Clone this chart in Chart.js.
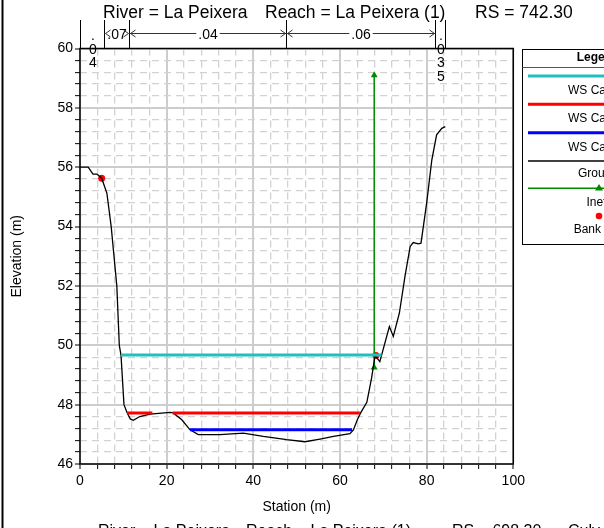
<!DOCTYPE html>
<html><head><meta charset="utf-8">
<script src="https://cdn.jsdelivr.net/npm/chart.js@4"></script>
<style>html,body{margin:0;padding:0;background:#fff;overflow:hidden}</style>
</head><body>
<canvas id="c" width="604" height="528"></canvas>
<script>
// ---- data ----
const groundStation = [0, 1.9, 2.6, 3.0, 3.9, 5.0, 6.2, 7.2, 8.5, 9.07, 9.46, 10.15, 10.9, 11.6, 12.3, 13.8, 16.2, 20.8, 21.5, 23.5, 25.4, 27.3, 32.3, 37.7, 42.3, 47.7, 51.9, 55.4, 58.5, 62.3, 63.1, 64.0, 64.8, 66.2, 67.3, 68.1, 69.2, 71.4, 72.3, 73.7, 75.0, 76.2, 76.9, 78.1, 78.7, 80.0, 81.2, 82.3, 83.5, 84.3];
const groundElev = [56.0, 56.0, 55.85, 55.77, 55.77, 55.63, 55.13, 54.0, 52.0, 50.0, 49.67, 48.0, 47.72, 47.52, 47.47, 47.6, 47.68, 47.74, 47.72, 47.49, 47.15, 46.99, 46.99, 47.04, 46.93, 46.82, 46.75, 46.84, 46.93, 47.02, 47.15, 47.49, 47.73, 48.08, 48.9, 49.65, 49.45, 50.63, 50.30, 51.08, 52.32, 53.33, 53.46, 53.42, 53.44, 54.79, 56.25, 57.09, 57.31, 57.37];
const ws1Station = [9.46, 69.6];           // cyan
const ws1Elev = 49.67;
const ws2Station = [10.9, 16.7, null, 21.4, 64.6]; // red (split where ground is higher)
const ws2Elev = 47.72;
const ws3Station = [25.4, 62.8];           // blue
const ws3Elev = 47.15;
const ineffStation = [67.9, 67.9];
const ineffElev = [49.25, 59.1];
const bankStation = [5.0, 68.3];
const bankElev = [55.63, 49.66];
const nStations = [0, 5.5, 11.3, 47.6, 82.0, 84.3];
const nValues = ['.04', '.07', '.04', '.06', '.035'];
const legendLabels = ['WS Caudal 500', 'WS Caudal 100', 'WS Caudal 10', 'Ground', 'Ineff', 'Bank Sta'];
const headerTexts = ['River = La Peixera', 'Reach = La Peixera (1)', 'RS = 742.30'];
const footerTexts = ['River = La Peixera', 'Reach = La Peixera (1)', 'RS = 698.30', 'Culv'];
const xTitle = 'Station (m)';
const yTitle = 'Elevation (m)';

const FONT = "'Liberation Sans', Arial, sans-serif";
function isMult(v, m) { return Math.abs(v / m - Math.round(v / m)) < 1e-6; }
function pts(xs, ys) { return xs.map((x, i) => ({ x: x, y: Array.isArray(ys) ? ys[i] : ys })); }
function segPts(xs, y) { return xs.map(x => x === null ? { x: NaN, y: null } : { x: x, y: y }); }

const C_CYAN = '#1fc0c0', C_RED = '#ff0000', C_BLUE = '#0000ff', C_GREEN = '#008a00';

const extras = {
  id: 'extras',
  beforeDraw(chart) {
    const ctx = chart.ctx;
    ctx.save(); ctx.fillStyle = '#fff'; ctx.fillRect(0, 0, chart.width, chart.height); ctx.restore();
  },
  afterDraw(chart) {
    const ctx = chart.ctx;
    const a = chart.chartArea;
    const xs = chart.scales.x;
    ctx.save();
    ctx.strokeStyle = '#000'; ctx.lineWidth = 1.5;
    ctx.strokeRect(a.left, a.top, a.right - a.left, a.bottom - a.top);
    ctx.fillStyle = '#000'; ctx.fillRect(1.5, 0, 2, chart.height);
    ctx.font = '17.5px ' + FONT; ctx.fillStyle = '#000'; ctx.textAlign = 'left'; ctx.textBaseline = 'alphabetic';
    const hx = [103, 265, 475];
    headerTexts.forEach((t, i) => ctx.fillText(t, hx[i], 17.5));
    ctx.font = '16px ' + FONT;
    const fx = [98, 246, 452, 568];
    footerTexts.forEach((t, i) => ctx.fillText(t, fx[i], 535.5));
    ctx.lineWidth = 1; ctx.strokeStyle = '#000';
    const px = nStations.map(s => Math.round(xs.getPixelForValue(s)) + 0.5);
    px.forEach(p => { ctx.beginPath(); ctx.moveTo(p, 20); ctx.lineTo(p, a.top); ctx.stroke(); });
    ctx.font = '14px ' + FONT;
    const ay = 33.5;
    for (let i = 0; i < nValues.length; i++) {
      const xL = px[i], xR = px[i + 1], w = xR - xL, cx = (xL + xR) / 2;
      if (w > 24) {
        ctx.strokeStyle = '#333';
        ctx.beginPath(); ctx.moveTo(xL, ay); ctx.lineTo(xR, ay); ctx.stroke();
        const tw = ctx.measureText(nValues[i]).width;
        ctx.fillStyle = '#fff'; ctx.fillRect(cx - tw / 2 - 2, 26, tw + 4, 14);
        ctx.fillStyle = '#000'; ctx.textAlign = 'center';
        ctx.fillText(nValues[i], cx, 38.5);
        ctx.beginPath();
        ctx.moveTo(xL + 6, ay - 3.5); ctx.lineTo(xL + 1, ay); ctx.lineTo(xL + 6, ay + 3.5);
        ctx.moveTo(xR - 6, ay - 3.5); ctx.lineTo(xR - 1, ay); ctx.lineTo(xR - 6, ay + 3.5);
        ctx.stroke();
      } else {
        ctx.fillStyle = '#000'; ctx.textAlign = 'center';
        const ch = nValues[i].split('');
        ch.forEach((c, k) => ctx.fillText(c, cx + 0.5, 40 + k * 13.5));
      }
    }
    const L = 522.5, T = 49.5, B = 244.5, LC = 598;
    ctx.fillStyle = '#fff'; ctx.fillRect(L, T, 200, B - T);
    ctx.strokeStyle = '#000'; ctx.lineWidth = 1;
    ctx.strokeRect(L, T, 200, B - T);
    ctx.strokeStyle = '#555'; ctx.beginPath(); ctx.moveTo(L, 67.5); ctx.lineTo(L + 200, 67.5); ctx.stroke();
    ctx.fillStyle = '#000'; ctx.textAlign = 'center';
    ctx.font = 'bold 12px ' + FONT; ctx.fillText('Legend', LC, 61);
    ctx.font = '12px ' + FONT;
    const lineY = [76, 104.3, 132.7, 161, 188.3];
    const lineCol = [C_CYAN, C_RED, C_BLUE, '#000', C_GREEN];
    const lineW = [3, 3, 3, 1.5, 1.5];
    lineY.forEach((y, i) => {
      ctx.strokeStyle = lineCol[i]; ctx.lineWidth = lineW[i];
      ctx.beginPath(); ctx.moveTo(528, y); ctx.lineTo(720, y); ctx.stroke();
    });
    ctx.fillStyle = C_GREEN; ctx.beginPath();
    ctx.moveTo(LC + 1, 184); ctx.lineTo(LC + 5, 190.5); ctx.lineTo(LC - 3, 190.5); ctx.closePath(); ctx.fill();
    ctx.fillStyle = C_RED; ctx.beginPath(); ctx.arc(LC + 1, 216, 3.3, 0, Math.PI * 2); ctx.fill();
    ctx.fillStyle = '#000';
    const textY = [94, 122.3, 150.7, 177.3, 206, 233.3];
    legendLabels.forEach((t, i) => {
      if (i < 3) { ctx.textAlign = 'left'; ctx.fillText(t, 568, textY[i]); }
      else { ctx.textAlign = 'center'; ctx.fillText(t, LC, textY[i]); }
    });
    ctx.restore();
  }
};

const gridColor = c => (c.tick && (isMult(c.tick.value, c.scale.axis === 'x' ? 20 : 2)) ? '#cdcdcd' : '#d2d2d2');
const gridWidth = c => (c.tick && (isMult(c.tick.value, c.scale.axis === 'x' ? 20 : 2)) ? 2 : 1.3);
const gridDash = c => (c.tick && !isMult(c.tick.value, c.scale.axis === 'x' ? 20 : 2)) ? [7, 5] : [];

new Chart(document.getElementById('c'), {
  type: 'line',
  data: {
    datasets: [
      { label: 'WS 1', data: segPts(ws1Station, ws1Elev), borderColor: C_CYAN, borderWidth: 3, pointRadius: 0, order: 1 },
      { label: 'WS 2', data: segPts(ws2Station, ws2Elev), borderColor: C_RED, borderWidth: 3, pointRadius: 0, spanGaps: false, order: 1 },
      { label: 'WS 3', data: segPts(ws3Station, ws3Elev), borderColor: C_BLUE, borderWidth: 3, pointRadius: 0, order: 1 },
      { label: 'Ground', data: pts(groundStation, groundElev), borderColor: '#000', borderWidth: 1.3, pointRadius: 0, tension: 0, order: 2 },
      { label: 'Ineff', data: pts(ineffStation, ineffElev), borderColor: C_GREEN, borderWidth: 1.5, pointStyle: 'triangle', pointRadius: 4, pointBackgroundColor: C_GREEN, pointBorderWidth: 0, order: 3 },
      { label: 'Bank Sta', data: pts(bankStation, bankElev), showLine: false, pointRadius: 3.5, pointBackgroundColor: C_RED, pointBorderWidth: 0, order: 4 }
    ]
  },
  options: {
    responsive: false, animation: false, devicePixelRatio: 1,
    layout: { padding: { left: 0, top: 48.5, right: 90.7, bottom: 0 } },
    plugins: { legend: { display: false }, tooltip: { enabled: false }, title: { display: false } },
    scales: {
      x: {
        type: 'linear', min: 0, max: 100,
        afterFit: s => { s.height = 64; },
        ticks: { stepSize: 4, autoSkip: false, maxRotation: 0, padding: 4, color: '#000', font: { family: FONT, size: 14 },
          callback: v => isMult(v, 20) ? String(Math.round(v)) : '' },
        grid: { color: gridColor, lineWidth: gridWidth, tickColor: '#000', tickLength: 5, tickWidth: 1 },
        border: { display: false, dash: gridDash },
        title: { display: true, text: xTitle, color: '#000', font: { family: FONT, size: 14 }, padding: { top: 0, bottom: 12 } }
      },
      y: {
        type: 'linear', min: 46, max: 60,
        afterFit: s => { s.width = 80; },
        ticks: { stepSize: 0.4, autoSkip: false, padding: 2, color: '#000', font: { family: FONT, size: 14 },
          callback: v => isMult(v, 2) ? String(Math.round(v)) : '' },
        grid: { color: gridColor, lineWidth: gridWidth, tickColor: '#000', tickLength: 5, tickWidth: 1 },
        border: { display: false, dash: gridDash },
        title: { display: true, text: yTitle, color: '#000', font: { family: FONT, size: 14 }, padding: { top: 9, bottom: 0 } }
      }
    }
  },
  plugins: [extras]
});
</script>
</body></html>
